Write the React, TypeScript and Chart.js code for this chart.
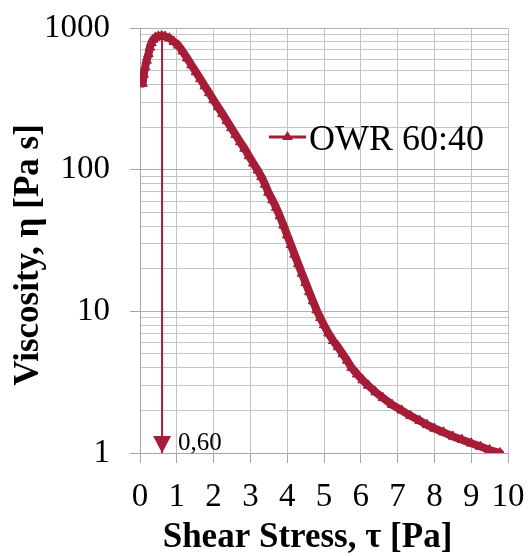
import React, { useEffect, useRef } from "react";
import { Chart, registerables } from "chart.js";

Chart.register(...registerables);

// ---- data ----
const SERIES_LABEL = "OWR 60:40";
const SHEAR_STRESS = [
  0.07, 0.1, 0.14, 0.18, 0.23, 0.27, 0.31, 0.36, 0.42, 0.5,
  0.59, 0.68, 0.8, 0.92, 1.04, 1.16, 1.28, 1.4, 1.52, 1.64,
  1.76, 1.88, 2.0, 2.12, 2.24, 2.36, 2.48, 2.6, 2.72, 2.84,
  2.96, 3.08, 3.2, 3.3, 3.4, 3.49, 3.6, 3.7, 3.8, 3.9,
  4.0, 4.1, 4.2, 4.3, 4.4, 4.5, 4.6, 4.7, 4.8, 4.9,
  5.0, 5.12, 5.25, 5.38, 5.51, 5.63, 5.75, 5.9, 6.05, 6.2,
  6.4, 6.6, 6.85, 7.11, 7.35, 7.6, 7.8, 8.0, 8.25, 8.5,
  8.75, 9.0, 9.25, 9.5, 9.78,
];
const VISCOSITY = [
  405, 470, 530, 590, 655, 730, 785, 830, 858, 874,
  880, 872, 847, 800, 754, 685, 612, 547, 489, 437,
  389, 348, 310, 277, 248, 221, 197, 176, 157, 141,
  125, 111, 99, 89, 78.5, 69, 61, 54, 47, 40.5,
  34.5, 29.5, 25.2, 21.6, 18.5, 15.9, 13.7, 11.8, 10.2, 9.0,
  8.0, 7.0, 6.2, 5.6, 5.0, 4.5, 4.0, 3.6, 3.27, 3.0,
  2.69, 2.45, 2.19, 2.0, 1.83, 1.69, 1.58, 1.49, 1.4, 1.31,
  1.24, 1.17, 1.11, 1.05, 1.0,
];
const ARROW_X = [0.6, 0.6];
const ARROW_Y = [880, 1];
const ARROW_LABEL = "0,60";
const X_TICKS = [0, 1, 2, 3, 4, 5, 6, 7, 8, 9, 10];
const Y_TICKS = [
  1, 2, 3, 4, 5, 6, 7, 8, 9,
  10, 20, 30, 40, 50, 60, 70, 80, 90,
  100, 200, 300, 400, 500, 600, 700, 800, 900,
  1000,
];
const Y_LABELED = [1, 10, 100, 1000];
const X_TITLE = "Shear Stress, τ [Pa]";
const Y_TITLE = "Viscosity, η [Pa s]";

// ---- styles ----
const COLOR = "#a51d37";
const FONT = '"Liberation Serif", "Times New Roman", serif';
const GRID = "#c4c4c4";
const GRID_MAJOR = "#b0b0b0";
const AXIS = "#a6a6a6";

const overlayPlugin = {
  id: "overlay",
  afterDatasetsDraw(chart: any) {
    const ctx = chart.ctx;
    const meta = chart.getDatasetMeta(1);
    const tip = meta.data[meta.data.length - 1];
    ctx.save();
    // arrow head
    ctx.fillStyle = COLOR;
    ctx.beginPath();
    ctx.moveTo(tip.x, tip.y);
    ctx.lineTo(tip.x - 9, tip.y - 17);
    ctx.lineTo(tip.x + 9, tip.y - 17);
    ctx.closePath();
    ctx.fill();
    // arrow label
    ctx.fillStyle = "#000";
    ctx.font = `25px ${FONT}`;
    ctx.textBaseline = "alphabetic";
    ctx.textAlign = "left";
    ctx.fillText(ARROW_LABEL, tip.x + 16, tip.y - 3);
    ctx.restore();
  },
  afterDraw(chart: any) {
    const ctx = chart.ctx;
    const area = chart.chartArea;
    ctx.save();
    // legend
    const ly = 137;
    ctx.strokeStyle = COLOR;
    ctx.lineWidth = 3;
    ctx.beginPath();
    ctx.moveTo(269, ly);
    ctx.lineTo(306, ly);
    ctx.stroke();
    ctx.fillStyle = COLOR;
    ctx.beginPath();
    ctx.moveTo(287.5, ly - 6);
    ctx.lineTo(282, ly + 3);
    ctx.lineTo(293, ly + 3);
    ctx.closePath();
    ctx.fill();
    ctx.fillStyle = "#000";
    ctx.textBaseline = "alphabetic";
    ctx.textAlign = "left";
    ctx.font = `36px ${FONT}`;
    ctx.fillText(chart.data.datasets[0].label, 309, 150);
    // axis titles
    ctx.font = `bold 35px ${FONT}`;
    ctx.textAlign = "center";
    ctx.fillText(X_TITLE, area.left + 167.5, 547);
    ctx.translate(38, area.top + 227);
    ctx.rotate(-Math.PI / 2);
    ctx.fillText(Y_TITLE, 0, 0);
    ctx.restore();
  },
};

export default function App() {
  const ref = useRef<HTMLCanvasElement>(null);

  useEffect(() => {
    if (!ref.current) return;
    const chart = new Chart(ref.current, {
      type: "line",
      data: {
        datasets: [
          {
            label: SERIES_LABEL,
            data: SHEAR_STRESS.map((x, i) => ({ x, y: VISCOSITY[i] })),
            borderColor: COLOR,
            backgroundColor: COLOR,
            borderWidth: 8,
            borderJoinStyle: "round",
            borderCapStyle: "round",
            pointStyle: "triangle",
            pointRadius: 5.5,
            pointBackgroundColor: COLOR,
            pointBorderColor: COLOR,
            pointBorderWidth: 1,
            tension: 0,
          },
          {
            label: "arrow",
            data: ARROW_X.map((x, i) => ({ x, y: ARROW_Y[i] })),
            borderColor: COLOR,
            borderWidth: 2,
            pointRadius: 0,
            tension: 0,
          },
        ],
      },
      options: {
        animation: false,
        responsive: false,
        devicePixelRatio: 1,
        layout: { padding: { top: 28, right: 20, bottom: 0, left: 0 } },
        plugins: {
          legend: { display: false },
          tooltip: { enabled: false },
        },
        scales: {
          x: {
            type: "linear",
            min: 0,
            max: 10,
            afterBuildTicks: (s: any) => {
              s.ticks = X_TICKS.map((v) => ({ value: v }));
            },
            afterFit: (s: any) => {
              s.height = 103;
              s.paddingLeft = 0;
              s.paddingRight = 0;
            },
            grid: {
              color: GRID,
              lineWidth: 1,
              tickLength: 10,
              tickColor: AXIS,
            },
            border: { color: AXIS, width: 1 },
            ticks: {
              autoSkip: false,
              maxRotation: 0,
              minRotation: 0,
              padding: 15,
              color: "#000",
              font: { family: FONT, size: 33 },
              callback: (v: any) => String(v),
            },
            title: { display: false, text: X_TITLE },
          },
          y: {
            type: "logarithmic",
            min: 1,
            max: 1000,
            afterBuildTicks: (s: any) => {
              s.ticks = Y_TICKS.map((v) => ({ value: v }));
            },
            afterFit: (s: any) => {
              s.width = 140;
              s.paddingTop = 0;
              s.paddingBottom = 0;
            },
            grid: {
              color: (c: any) =>
                c.tick && Y_LABELED.includes(c.tick.value) ? GRID_MAJOR : GRID,
              lineWidth: 1,
              tickLength: 10,
              tickColor: (c: any) =>
                c.tick && Y_LABELED.includes(c.tick.value) ? AXIS : "rgba(0,0,0,0)",
            },
            border: { color: AXIS, width: 1 },
            ticks: {
              autoSkip: false,
              padding: 20,
              color: "#000",
              font: { family: FONT, size: 33 },
              callback: (v: any) => (Y_LABELED.includes(Number(v)) ? String(v) : ""),
            },
            title: { display: false, text: Y_TITLE },
          },
        },
      } as any,
      plugins: [overlayPlugin],
    } as any);
    return () => chart.destroy();
  }, []);

  return (
    <div
      style={{
        position: "fixed",
        left: 0,
        top: 0,
        width: 528,
        height: 556,
        background: "#fff",
      }}
    >
      <canvas
        ref={ref}
        width={528}
        height={556}
        style={{ width: 528, height: 556, display: "block" }}
      />
    </div>
  );
}
